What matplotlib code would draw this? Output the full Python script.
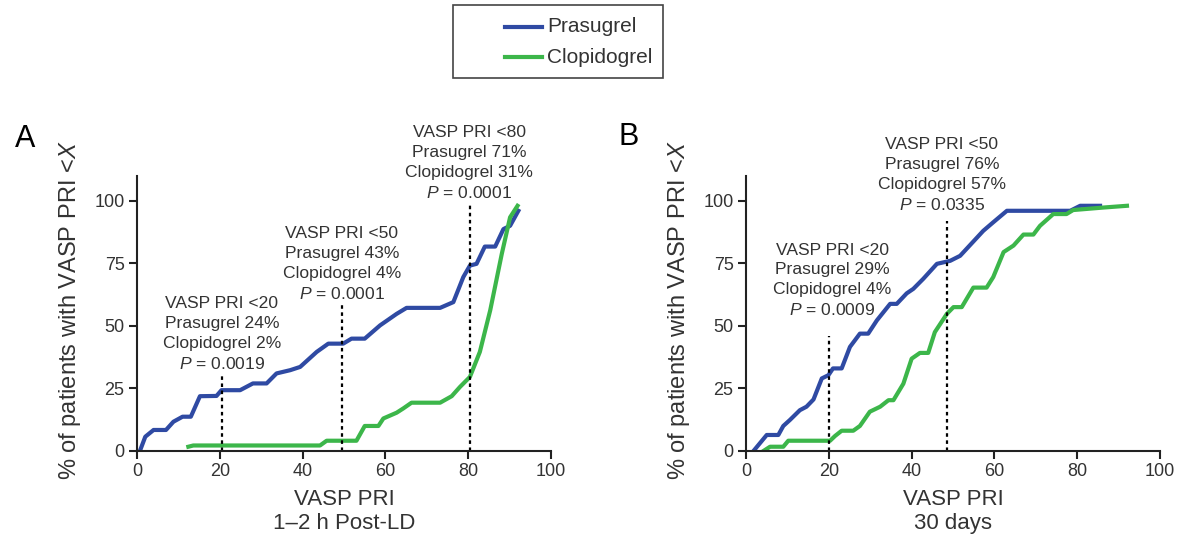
import numpy as np
import matplotlib.pyplot as plt
from matplotlib.lines import Line2D
from matplotlib.patches import Rectangle

plt.rcParams['font.family'] = ['Liberation Sans', 'DejaVu Sans']
plt.rcParams['mathtext.fontset'] = 'custom'
plt.rcParams['mathtext.it'] = 'Liberation Sans:italic'
plt.rcParams['mathtext.rm'] = 'Liberation Sans'

# panel A: 1-2 h post-LD
a_pras_x = [0.7, 2, 4, 7, 8.8, 11, 13, 15.2, 19.2, 20.4, 24.9, 28, 31.3, 33.7, 37, 39.4, 43.4, 46.2,
            49.8, 51.8, 55, 58.7, 62.7, 65.1, 73.2, 76.4, 78.8, 80.4, 82, 84, 86.5, 88.5, 90.1, 92.1]
a_pras_y = [0, 5.7, 8.4, 8.4, 11.7, 13.7, 13.7, 21.9, 22, 24.3, 24.3, 27, 27, 31, 32.3, 33.6, 39.6, 42.9,
            42.9, 44.9, 44.9, 50.2, 54.8, 57.2, 57.2, 59.5, 69.5, 74.1, 74.8, 81.7, 81.7, 88.7, 90, 96]
a_clop_x = [12.4, 13.6, 44.2, 45.8, 53, 55, 58.3, 59.5, 62.7, 64.3, 66.3, 73.2, 76, 78, 80.4, 82.8,
            85.3, 88.1, 90.1, 91.9]
a_clop_y = [1.7, 2.2, 2.2, 4.1, 4.1, 10, 10, 13, 15.3, 17, 19.3, 19.3, 21.9, 25.6, 29.6, 39.6,
            56.2, 78.8, 93.4, 98]

# panel B: 30 days
b_pras_x = [1.8, 5, 7.8, 9, 10.6, 13, 14.6, 16.3, 18.3, 19.9, 21, 23.1, 25.1, 27.5, 29.5, 31.6, 34.8,
            36.4, 38.8, 40.4, 42.8, 46.1, 49.3, 51.7, 57.3, 59.7, 63, 78.3, 80.7, 85.5]
b_pras_y = [0, 6.4, 6.4, 10, 12.4, 16.3, 17.7, 20.6, 29, 30.3, 33, 33, 41.6, 46.9, 46.9, 52.2, 58.8,
            58.8, 63, 64.8, 68.8, 74.8, 76, 78, 88, 91.4, 96, 96, 98, 98]
b_clop_x = [4.2, 5.8, 9, 10.2, 20.3, 21.5, 23.1, 25.9, 27.5, 29.9, 32.4, 34.4, 35.6, 38, 40, 42, 44,
            45.6, 48.5, 50.1, 52.1, 54.9, 58.1, 59.7, 62.2, 64.6, 67, 69.4, 71, 74.2, 77.4, 79, 86.3, 92]
b_clop_y = [0, 1.7, 1.7, 4.1, 4.1, 6, 8.1, 8.1, 10, 15.7, 17.7, 20.3, 20.3, 26.9, 36.9, 39.2, 39.2,
            47.5, 54.8, 57.5, 57.5, 65.3, 65.3, 69.5, 79.5, 82.1, 86.5, 86.5, 90, 94.7, 94.7, 96.3, 97.3, 98]

# cutoffs: (x, dashed line top, text x, text bottom, label lines)
a_notes = [(20.6, 30, 20.5, 31.5, ['VASP PRI <20', 'Prasugrel 24%', 'Clopidogrel 2%', '0.0019']),
           (49.5, 59, 49.5, 59.5, ['VASP PRI <50', 'Prasugrel 43%', 'Clopidogrel 4%', '0.0001']),
           (80.4, 98.5, 80.2, 100, ['VASP PRI <80', 'Prasugrel 71%', 'Clopidogrel 31%', '0.0001'])]
b_notes = [(20.0, 46, 20.8, 53, ['VASP PRI <20', 'Prasugrel 29%', 'Clopidogrel 4%', '0.0009']),
           (48.6, 92, 47.3, 95, ['VASP PRI <50', 'Prasugrel 76%', 'Clopidogrel 57%', '0.0335'])]

series_names = ['Prasugrel', 'Clopidogrel']

blue = '#2f4aa3'
green = '#3cb64a'
txt = '#333333'

fig = plt.figure(figsize=(11.78, 5.45), dpi=100)
axA = fig.add_axes([0.1163, 0.1725, 0.3515, 0.505])
axB = fig.add_axes([0.6333, 0.1725, 0.3515, 0.505])


def draw(ax, px, py, cx, cy, notes, xlab, letter, lx, ly):
    ax.plot(px, py, color=blue, lw=3, solid_joinstyle='round')
    ax.plot(cx, cy, color=green, lw=3, solid_joinstyle='round')
    for x, top, tx, tb, lines in notes:
        ax.plot([x, x], [0, top], color='black', ls=(0, (1.6, 1.6)), lw=1.6)
        text = '\n'.join(lines[:3]) + '\n$P$ = ' + lines[3]
        ax.text(tx, tb, text, ha='center', va='bottom', fontsize=12.6, color=txt,
                linespacing=1.4)
    ax.set_xlim(0, 100)
    ax.set_ylim(0, 110)
    ax.set_xticks([0, 20, 40, 60, 80, 100])
    ax.set_yticks([0, 25, 50, 75, 100])
    for s in ['top', 'right']:
        ax.spines[s].set_visible(False)
    for s in ['left', 'bottom']:
        ax.spines[s].set_linewidth(1.5)
        ax.spines[s].set_color('#222222')
    ax.tick_params(direction='out', length=6, width=1.5, labelsize=13, labelcolor=txt,
                   color='#222222', pad=3)
    ax.set_xlabel(xlab, fontsize=16, color=txt, linespacing=1.2, labelpad=6)
    ax.set_ylabel('% of patients with VASP PRI <$X$', fontsize=17, color=txt, va='center')
    ax.yaxis.set_label_coords(-0.162, 0.51)
    ax.text(lx, ly, letter, transform=ax.transAxes, fontsize=22, color='black',
            ha='left', va='baseline')


draw(axA, a_pras_x, a_pras_y, a_clop_x, a_clop_y, a_notes, 'VASP PRI\n1\u20132 h Post-LD', 'A',
     -0.295, 1.105)
draw(axB, b_pras_x, b_pras_y, b_clop_x, b_clop_y, b_notes, 'VASP PRI\n30 days', 'B',
     -0.309, 1.113)

# legend box drawn in figure coordinates
fig.add_artist(Rectangle((0.3846, 0.8569), 0.1782, 0.1339, transform=fig.transFigure,
                         facecolor='white', edgecolor='#444444', lw=1.2))
for name, col, yy in zip(series_names, [blue, green], [0.9505, 0.8954]):
    fig.add_artist(Line2D([0.4287, 0.4601], [yy, yy], transform=fig.transFigure, color=col, lw=3))
    fig.text(0.4643, yy, name, fontsize=15, color=txt, ha='left', va='center')

fig.savefig('out.png', dpi=100)
